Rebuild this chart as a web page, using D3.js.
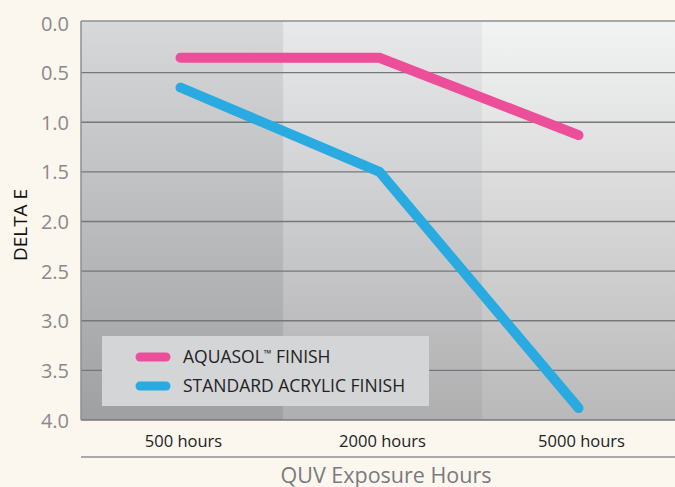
<!DOCTYPE html>
<html>
<head>
<meta charset="utf-8">
<script src="https://cdn.jsdelivr.net/npm/d3@7"></script>
<style>
  body { margin: 0; background: #fbf7ee; }
  svg { display: block; }
  svg text { font-family: "Open Sans", "Noto Sans", sans-serif; }
</style>
</head>
<body>
<div id="chart"></div>
<script>
// chart data
var categories = ["500 hours", "2000 hours", "5000 hours"];
var aquasol = [0.35, 0.35, 1.13];
var acrylic = [0.65, 1.5, 3.88];
var yTicks = [0, 0.5, 1, 1.5, 2, 2.5, 3, 3.5, 4];
var seriesNames = ["AQUASOL\u2122 FINISH", "STANDARD ACRYLIC FINISH"];
var seriesColors = ["#ec4e9a", "#29abe2"];
// top / bottom shade of each column
var colShades = [["#d7d8da", "#9fa0a2"], ["#e8e9eb", "#afafb0"], ["#f2f3f3", "#bab9b9"]];

var width = 675, height = 487;
var plotL = 81, plotR = 681, plotT = 21, plotB = 420;

var svg = d3.select("#chart").append("svg")
    .attr("width", width)
    .attr("height", height);

var x = d3.scaleBand().domain(categories).range([84, plotR]);
var y = d3.scaleLinear().domain([0, 4]).range([23, plotB]);

var defs = svg.append("defs");
colShades.forEach(function(c, i) {
  var g = defs.append("linearGradient")
      .attr("id", "col" + i)
      .attr("x1", 0).attr("x2", 0).attr("y1", 0).attr("y2", 1);
  g.append("stop").attr("offset", "0%").attr("stop-color", c[0]);
  g.append("stop").attr("offset", "100%").attr("stop-color", c[1]);
});

// column backgrounds
svg.append("g").selectAll("rect")
  .data(categories)
  .enter()
  .append("rect")
  .attr("x", function(d, i) { return i == 0 ? plotL : x(d); })
  .attr("y", plotT)
  .attr("width", function(d, i) { return i == 0 ? x(d) + x.bandwidth() - plotL : x.bandwidth(); })
  .attr("height", plotB - plotT)
  .attr("fill", function(d, i) { return "url(#col" + i + ")"; });

// grid lines
svg.append("g").selectAll("line")
  .data(yTicks.slice(1, -1))
  .enter()
  .append("line")
  .attr("x1", plotL).attr("x2", width)
  .attr("y1", function(d) { return y(d); })
  .attr("y2", function(d) { return y(d); })
  .attr("stroke", "#76777a")
  .attr("stroke-width", 1.4);

// frame
svg.append("line").attr("x1", plotL).attr("x2", width).attr("y1", plotT).attr("y2", plotT)
  .attr("stroke", "#8e8f91").attr("stroke-width", 1.5);
svg.append("line").attr("x1", plotL).attr("x2", width).attr("y1", plotB).attr("y2", plotB)
  .attr("stroke", "#76777a").attr("stroke-width", 1.5);
svg.append("line").attr("x1", plotL).attr("x2", plotL).attr("y1", plotT).attr("y2", plotB)
  .attr("stroke", "#8e8f91").attr("stroke-width", 1.5);

// y axis labels
var yAxis = d3.axisLeft(y).tickValues(yTicks).tickFormat(d3.format(".1f")).tickSize(0).tickPadding(12);
var yg = svg.append("g").attr("transform", "translate(" + plotL + ",0)").call(yAxis);
yg.select(".domain").remove();
yg.selectAll("text")
  .attr("fill", "#8a8a8c")
  .style("font-size", "20px")
  .attr("dy", "0.35em");

svg.append("text")
  .attr("transform", "translate(27,225) rotate(-90)")
  .attr("text-anchor", "middle")
  .attr("fill", "#111")
  .style("font-size", "19px")
  .text("DELTA E");

// x axis labels
var xAxis = d3.axisBottom(x).tickSize(0).tickPadding(0);
var xg = svg.append("g").attr("transform", "translate(0," + plotB + ")").call(xAxis);
xg.select(".domain").remove();
xg.selectAll("text")
  .attr("y", 27)
  .attr("dy", 0)
  .attr("fill", "#222")
  .style("font-size", "16.5px");

svg.append("line").attr("x1", plotL).attr("x2", width).attr("y1", 457).attr("y2", 457)
  .attr("stroke", "#8e8f91").attr("stroke-width", 1.5);

svg.append("text")
  .attr("x", 386).attr("y", 483)
  .attr("text-anchor", "middle")
  .attr("fill", "#7a7a7c")
  .style("font-size", "21.5px")
  .text("QUV Exposure Hours");

// lines
var line = d3.line()
  .x(function(d, i) { return x(categories[i]) + x.bandwidth() / 2 - 3; })
  .y(function(d) { return y(d); });

[aquasol, acrylic].forEach(function(s, i) {
  svg.append("path")
    .datum(s)
    .attr("d", line)
    .attr("fill", "none")
    .attr("stroke", seriesColors[i])
    .attr("stroke-width", 10)
    .attr("stroke-linecap", "round")
    .attr("stroke-linejoin", "miter");
});

// legend
var legend = svg.append("g").attr("transform", "translate(102,336)");
legend.append("rect")
  .attr("width", 327).attr("height", 70)
  .attr("fill", "#d4d5d7");
seriesNames.forEach(function(n, i) {
  var ly = 21 + i * 29;
  legend.append("line")
    .attr("x1", 38).attr("x2", 64)
    .attr("y1", ly).attr("y2", ly)
    .attr("stroke", seriesColors[i])
    .attr("stroke-width", 9)
    .attr("stroke-linecap", "round");
  var t = legend.append("text")
    .attr("x", 81).attr("y", ly + 6)
    .attr("fill", "#222")
    .style("font-size", "17.5px");
  if (i == 0) {
    t.append("tspan").text("AQUASOL");
    t.append("tspan").attr("dy", -6).style("font-size", "10px").text("\u2122");
    t.append("tspan").attr("dy", 6).text(" FINISH");
  } else {
    t.text(n);
  }
});
</script>
</body>
</html>
